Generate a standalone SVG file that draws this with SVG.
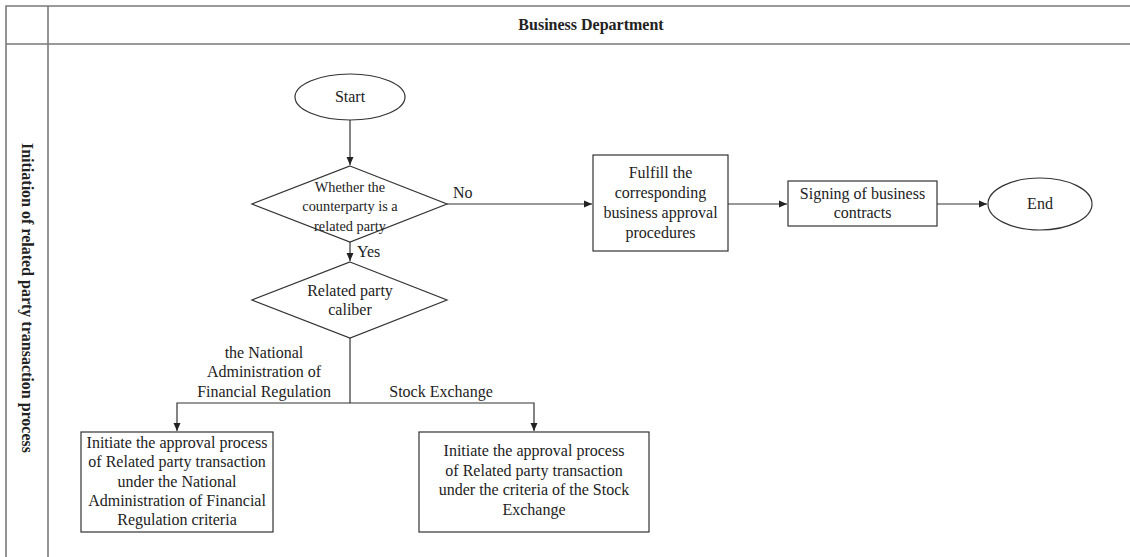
<svg xmlns="http://www.w3.org/2000/svg" width="1130" height="557" viewBox="0 0 1130 557">
  <style>
    .frame { stroke: #7a7a7a; stroke-width: 1.6; fill: none; }
    .shape { stroke: #333; stroke-width: 1.2; fill: #fff; }
    .conn { stroke: #333; stroke-width: 1.2; fill: none; }
    text { font-family: "Liberation Serif", "Times New Roman", serif; font-size: 16px; fill: #222; }
    .c { text-anchor: middle; }
    .b { font-weight: bold; }
    .s { font-size: 14.3px; }
  </style>
  <defs>
    <marker id="arrow" markerWidth="8" markerHeight="8" refX="8" refY="4" orient="auto" markerUnits="userSpaceOnUse">
      <path d="M0,0.5 L8,4 L0,7.5 Z" fill="#222"/>
    </marker>
  </defs>
  <rect width="1130" height="557" fill="#fff"/>

  <!-- swimlane frame -->
  <g id="lane">
    <path class="frame" d="M6,557 V6 H1130 M48,6 V557 M6,44 H1130"/>
    <text class="c b" x="591" y="30">Business Department</text>
    <text class="c b" transform="translate(22,298) rotate(90)">Initiation of related party transaction process</text>
  </g>

  <!-- connectors -->
  <g id="connectors">
    <path class="conn" d="M350,120 V165" marker-end="url(#arrow)"/>
    <path class="conn" d="M447,204 H592" marker-end="url(#arrow)"/>
    <path class="conn" d="M728,204 H787" marker-end="url(#arrow)"/>
    <path class="conn" d="M937,204 H987" marker-end="url(#arrow)"/>
    <path class="conn" d="M350,242 V261" marker-end="url(#arrow)"/>
    <path class="conn" d="M350,338 V403"/>
    <path class="conn" d="M350,403 H177 V431" marker-end="url(#arrow)"/>
    <path class="conn" d="M350,403 H534 V431" marker-end="url(#arrow)"/>
    <text x="453" y="198">No</text>
    <text x="357" y="257">Yes</text>
    <text class="c" x="264" y="358">the National</text>
    <text class="c" x="264" y="377">Administration of</text>
    <text class="c" x="264" y="397">Financial Regulation</text>
    <text class="c" x="441" y="397">Stock Exchange</text>
  </g>

  <g id="start">
    <ellipse class="shape" cx="350" cy="97" rx="55" ry="23"/>
    <text class="c" x="350" y="102">Start</text>
  </g>

  <g id="decision-related">
    <polygon class="shape" points="350,166 447,204 350,242 252,204"/>
    <text class="c s" x="350" y="192">Whether the</text>
    <text class="c s" x="350" y="211">counterparty is a</text>
    <text class="c s" x="350" y="231">related party</text>
  </g>

  <g id="fulfill">
    <rect class="shape" x="593" y="155" width="135" height="96"/>
    <text class="c" x="660.5" y="178">Fulfill the</text>
    <text class="c" x="660.5" y="198">corresponding</text>
    <text class="c" x="660.5" y="218">business approval</text>
    <text class="c" x="660.5" y="238">procedures</text>
  </g>

  <g id="signing">
    <rect class="shape" x="788" y="181" width="149" height="45"/>
    <text class="c" x="862.5" y="199">Signing of business</text>
    <text class="c" x="862.5" y="218">contracts</text>
  </g>

  <g id="end">
    <ellipse class="shape" cx="1040" cy="204" rx="52" ry="26"/>
    <text class="c" x="1040" y="209">End</text>
  </g>

  <g id="decision-caliber">
    <polygon class="shape" points="350,262 447,300 350,338 252,300"/>
    <text class="c" x="350" y="296">Related party</text>
    <text class="c" x="350" y="315">caliber</text>
  </g>

  <g id="nafr-approval">
    <rect class="shape" x="81" y="432" width="192" height="100"/>
    <text class="c" x="177" y="448">Initiate the approval process</text>
    <text class="c" x="177" y="467">of Related party transaction</text>
    <text class="c" x="177" y="487">under the National</text>
    <text class="c" x="177" y="506">Administration of Financial</text>
    <text class="c" x="177" y="525">Regulation criteria</text>
  </g>

  <g id="exchange-approval">
    <rect class="shape" x="419" y="432" width="230" height="100"/>
    <text class="c" x="534" y="456">Initiate the approval process</text>
    <text class="c" x="534" y="476">of Related party transaction</text>
    <text class="c" x="534" y="495">under the criteria of the Stock</text>
    <text class="c" x="534" y="515">Exchange</text>
  </g>
</svg>
